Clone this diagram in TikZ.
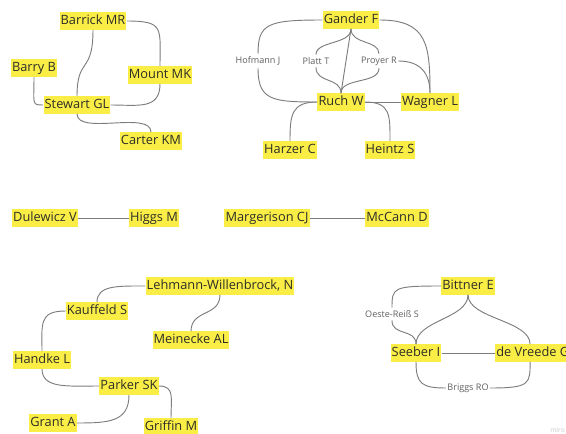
\documentclass[tikz,border=0pt]{standalone}
\usepackage{fontspec}
\setmainfont{Open Sans}
\definecolor{hl}{RGB}{250,238,70}
\definecolor{txt}{RGB}{45,45,40}
\definecolor{ln}{RGB}{125,125,125}
\definecolor{lbl}{RGB}{95,95,95}
\tikzset{
  person/.style={fill=hl, text=txt, inner xsep=0.8pt, inner ysep=0pt, minimum height=12.8pt,
    text height=7.2pt, text depth=2.2pt, font=\fontsize{9.6}{11}\selectfont},
  rel/.style={text=lbl, inner xsep=1pt, inner ysep=2pt, font=\fontsize{6.8}{8}\selectfont},
  link/.style={draw=ln, line width=0.7pt},
}
\begin{document}
\begin{tikzpicture}[x=0.75pt,y=-0.75pt]
\useasboundingbox (0,0) rectangle (566,434);
\clip (0,0) rectangle (566,434);
% group 1
\node[person] (barrick) at (93,21) {Barrick MR};
\node[person] (barry) at (34,68) {Barry B};
\node[person] (mount) at (160,75) {Mount MK};
\node[person] (stewart) at (77,105) {Stewart GL};
\node[person] (carter) at (151,141) {Carter KM};
\draw[link] (barrick.east) .. controls +(38,0) and +(0,-38) .. (mount.north);
\draw[link] (mount.south) .. controls +(0,26) and +(28,0) .. (stewart.east);
\draw[link] (barrick.south) .. controls +(0,45) and +(0,-40) .. (stewart.north);
\draw[link] (barry.south) .. controls +(0,28) and +(-12,0) .. (stewart.west);
\draw[link] (stewart.south) .. controls +(0,22) and +(0,-22) .. (carter.north);
% group 2
\node[person] (gander) at (351,20) {Gander F};
\node[person] (ruch) at (341,102) {Ruch W};
\node[person] (wagner) at (430,102) {Wagner L};
\node[person] (harzer) at (290,150) {Harzer C};
\node[person] (heintz) at (390,150) {Heintz S};
\node[rel] (hofmann) at (258,61) {Hofmann J};
\node[rel] (platt) at (316,61) {Platt T};
\node[rel] (proyer) at (379,61) {Proyer R};
\draw[link] (gander.west) .. controls +(-55,0) and +(0,-30) .. (hofmann.north);
\draw[link] (hofmann.south) .. controls +(0,32) and +(-45,0) .. (ruch.west);
\draw[link] (gander.south) .. controls +(0,16) and +(0,-14) .. (platt.north);
\draw[link] (platt.south) .. controls +(0,16) and +(0,-16) .. (ruch.north);
\draw[link] (gander.south) -- (ruch.north);
\draw[link] (gander.south) .. controls +(0,16) and +(0,-14) .. (proyer.north);
\draw[link] (proyer.south) .. controls +(0,16) and +(0,-16) .. (ruch.north);
\draw[link] (proyer.east) .. controls +(22,0) and +(0,-20) .. (wagner.north);
\draw[link] (gander.east) .. controls +(48,0) and +(0,-48) .. (wagner.north);
\draw[link] (ruch.east) -- (wagner.west);
\draw[link] (ruch.west) .. controls +(-26,0) and +(0,-26) .. (harzer.north);
\draw[link] (ruch.east) .. controls +(26,0) and +(0,-26) .. (heintz.north);
% group 3
\node[person] (dulewicz) at (45,218) {Dulewicz V};
\node[person] (higgs) at (154,218) {Higgs M};
\node[person] (margerison) at (267,218) {Margerison CJ};
\node[person] (mccann) at (397,218) {McCann D};
\draw[link] (dulewicz.east) -- (higgs.west);
\draw[link] (margerison.east) -- (mccann.west);
% group 4
\node[person] (lehmann) at (220,286) {Lehmann-Willenbrock, N};
\node[person] (kauffeld) at (97,311) {Kauffeld S};
\node[person] (meinecke) at (191,340) {Meinecke AL};
\node[person] (handke) at (42,360) {Handke L};
\node[person] (parker) at (129,386) {Parker SK};
\node[person] (grant) at (53,423) {Grant A};
\node[person] (griffin) at (171,427) {Griffin M};
\draw[link] (kauffeld.north) .. controls +(0,-17) and +(-28,0) .. (lehmann.west);
\draw[link] (lehmann.south) .. controls +(0,22) and +(0,-22) .. (meinecke.north);
\draw[link] (kauffeld.west) .. controls +(-27,0) and +(0,-27) .. (handke.north);
\draw[link] (handke.south) .. controls +(0,20) and +(-32,0) .. (parker.west);
\draw[link] (parker.south) .. controls +(0,27) and +(32,0) .. (grant.east);
\draw[link] (parker.east) .. controls +(16,0) and +(0,-20) .. (griffin.north);
% group 5
\node[person] (bittner) at (468,286) {Bittner E};
\node[person] (seeber) at (416,353) {Seeber I};
\node[person, anchor=west] (devreede) at (495,353) {de Vreede G};
\node[rel] (oeste) at (392,314) {Oeste-Reiß S};
\node[rel] (briggs) at (468,388) {Briggs RO};
\draw[link] (bittner.west) .. controls +(-48,0) and +(0,-20) .. (oeste.north);
\draw[link] (oeste.south) .. controls +(0,16) and +(0,-16) .. (seeber.north);
\draw[link] (bittner.south) .. controls +(0,24) and +(0,-24) .. (seeber.north);
\draw[link] (bittner.south) .. controls +(0,24) and +(0,-24) .. ([xshift=-2pt]devreede.north);
\draw[link] (seeber.east) -- (devreede.west);
\draw[link] (seeber.south) .. controls +(0,22) and +(-24,0) .. (briggs.west);
\draw[link] (briggs.east) .. controls +(40,0) and +(0,22) .. ([xshift=-2pt]devreede.south);
% watermark
\node[anchor=west, text=black!22, inner sep=0pt, font=\fontsize{5}{6}\selectfont] (miro) at (550,430) {miro};
\end{tikzpicture}
\end{document}
